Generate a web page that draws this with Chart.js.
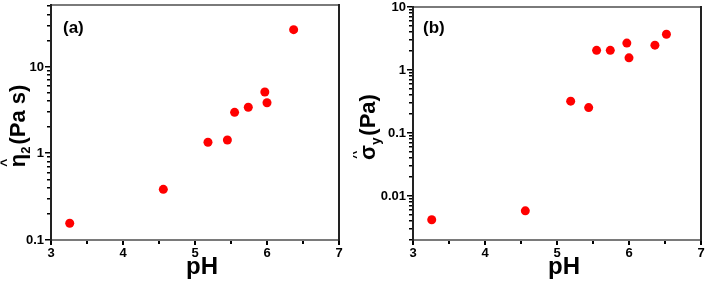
<!DOCTYPE html>
<html>
<head>
<meta charset="utf-8">
<script src="https://cdn.jsdelivr.net/npm/chart.js@4/dist/chart.umd.min.js"></script>
<style>
html, body { margin: 0; padding: 0; background: #fff; }
#wrap { position: relative; width: 706px; height: 282px; }
canvas { position: absolute; top: 0; }
</style>
</head>
<body>
<div id="wrap">
  <canvas id="ca" width="353" height="282" style="left:0;width:353px;height:282px"></canvas>
  <canvas id="cb" width="353" height="282" style="left:353px;width:353px;height:282px"></canvas>
</div>
<script>
// panel (a): viscosity vs pH
const phA  = [3.26, 4.56, 5.18, 5.45, 5.55, 5.74, 5.97, 6.00, 6.37];
const etaA = [0.156, 0.385, 1.35, 1.43, 2.99, 3.42, 5.14, 3.86, 27];
// panel (b): yield stress vs pH
const phB  = [3.26, 4.56, 5.19, 5.44, 5.55, 5.74, 5.97, 6.00, 6.36, 6.52];
const sigB = [0.0042, 0.0058, 0.32, 0.253, 2.05, 2.05, 2.67, 1.56, 2.48, 3.69];

const xTicks  = [3, 4, 5, 6, 7];
const yTicksA = [0.1, 1, 10];
const yTicksB = [0.01, 0.1, 1, 10];

const F = '"Liberation Sans", Arial, sans-serif';

function logMinor(min, max) {
  const out = [];
  for (let e = Math.floor(Math.log10(min)); e <= Math.ceil(Math.log10(max)); e++) {
    for (let k = 1; k <= 9; k++) {
      const v = k * Math.pow(10, e);
      if (v >= min * 0.999 && v <= max * 1.001) out.push(v);
    }
  }
  return out;
}

function majorOf(v, list) {
  return list.find(t => Math.abs(v - t) / t < 1e-6);
}

function xTickValues() {
  const t = [];
  xTicks.forEach((v, i) => { t.push(v); if (i < xTicks.length - 1) t.push(v + 0.5); });
  return t;
}

function panelPlugin(o) {
  return {
    id: 'panel',
    afterDraw(chart) {
      const ctx = chart.ctx, a = chart.chartArea;
      const xs = chart.scales.x, ys = chart.scales.y;
      const L = Math.round(a.left), R = Math.round(a.right);
      const T = Math.round(a.top), B = Math.round(a.bottom);
      ctx.save();

      // outward tick marks
      ctx.fillStyle = '#000';
      o.xAll.forEach(v => {
        const px = Math.round(xs.getPixelForValue(v));
        const len = xTicks.includes(v) ? 5 : 4;
        ctx.fillRect(px - 1, B, 2, len);
      });
      o.yAll.forEach(v => {
        const py = Math.round(ys.getPixelForValue(v));
        const len = majorOf(v, o.yMajor) !== undefined ? 6 : 4;
        ctx.fillRect(L - len, py - 1, len, 1.5);
      });

      // frame
      ctx.fillStyle = '#7a7a7a';
      ctx.fillRect(L - 1, T - 1, R - L + 2, 2);
      ctx.fillRect(L - 1, B - 1, R - L + 2, 2);
      ctx.fillStyle = '#222';
      ctx.fillRect(L - 1, T - 1, 2, B - T + 2);
      ctx.fillRect(R - 1, T - 1, 2, B - T + 2);

      ctx.fillStyle = '#000';
      ctx.textBaseline = 'alphabetic';
      ctx.font = 'bold 17px ' + F;
      ctx.fillText(o.label, o.lx, o.ly);

      // x title
      ctx.font = 'bold 24px ' + F;
      ctx.textAlign = 'center';
      ctx.fillText('pH', (a.left + a.right) / 2 + 7, 274);
      ctx.textAlign = 'left';

      // rotated y title: symbol with hat, subscript, units
      ctx.translate(o.tx, o.ty);
      ctx.rotate(-Math.PI / 2);
      const big = 'bold 22px ' + F, small = 'bold 13px ' + F;
      ctx.font = big;
      const wSym = ctx.measureText(o.sym).width;
      const wUnit = ctx.measureText(o.unit).width;
      ctx.font = small;
      const wSub = ctx.measureText(o.sub).width;
      const total = wSym + wSub + 2 + wUnit;
      let x = -total / 2;
      ctx.font = big;
      ctx.fillText(o.sym, x, 0);
      ctx.font = 'bold 14px ' + F;
      ctx.textAlign = 'center';
      ctx.fillText('^', x + wSym * 0.35, -14);
      ctx.textAlign = 'left';
      x += wSym;
      ctx.font = small;
      ctx.fillText(o.sub, x, 5);
      x += wSub + 2;
      ctx.font = big;
      ctx.fillText(o.unit, x, 0);
      ctx.restore();
    }
  };
}

function makeChart(id, xs, ys, yMin, yMax, yMajor, yWidth, pad, o) {
  const pts = xs.map((v, i) => ({ x: v, y: ys[i] }));
  const yAll = logMinor(yMin, yMax);
  const xAll = xTickValues();
  o.yAll = yAll; o.xAll = xAll; o.yMajor = yMajor;
  return new Chart(document.getElementById(id).getContext('2d'), {
    type: 'scatter',
    data: {
      datasets: [{
        data: pts,
        pointRadius: 4.5,
        pointHoverRadius: 4.5,
        pointBackgroundColor: '#ff0000',
        pointBorderWidth: 0
      }]
    },
    options: {
      responsive: false,
      animation: false,
      layout: { padding: pad },
      plugins: { legend: { display: false }, tooltip: { enabled: false } },
      scales: {
        x: {
          type: 'linear', min: 3, max: 7,
          afterBuildTicks: s => { s.ticks = xAll.map(v => ({ value: v })); },
          afterFit: s => { s.height = 42; s.paddingLeft = 0; s.paddingRight = 0; },
          ticks: {
            autoSkip: false, maxRotation: 0, padding: 6, color: '#000',
            font: { family: F, weight: 'bold', size: 13 },
            callback: v => (xTicks.includes(v) ? String(v) : '')
          },
          grid: { display: true, drawOnChartArea: false, drawTicks: false, color: 'rgba(0,0,0,0)' },
          border: { display: false }
        },
        y: {
          type: 'logarithmic', min: yMin, max: yMax,
          afterBuildTicks: s => { s.ticks = yAll.map(v => ({ value: v })); },
          afterFit: s => { s.width = yWidth; s.paddingTop = 0; s.paddingBottom = 0; },
          ticks: {
            autoSkip: false, padding: 7, color: '#000',
            font: { family: F, weight: 'bold', size: 13 },
            callback: v => { const m = majorOf(v, yMajor); return m !== undefined ? String(m) : ''; }
          },
          grid: { display: true, drawOnChartArea: false, drawTicks: false, color: 'rgba(0,0,0,0)' },
          border: { display: false }
        }
      }
    },
    plugins: [panelPlugin(o)]
  });
}

makeChart('ca', phA, etaA, 0.1, 52, yTicksA, 51, { left: 0, top: 5, right: 14, bottom: 0 },
  { label: '(a)', lx: 63, ly: 33, tx: 25, ty: 126, sym: 'η', sub: '2', unit: '(Pa s)' });
makeChart('cb', phB, sigB, 0.002, 10, yTicksB, 60, { left: 0, top: 7, right: 5, bottom: 0 },
  { label: '(b)', lx: 70, ly: 33, tx: 22, ty: 127, sym: 'σ', sub: 'y', unit: '(Pa)' });
</script>
</body>
</html>
